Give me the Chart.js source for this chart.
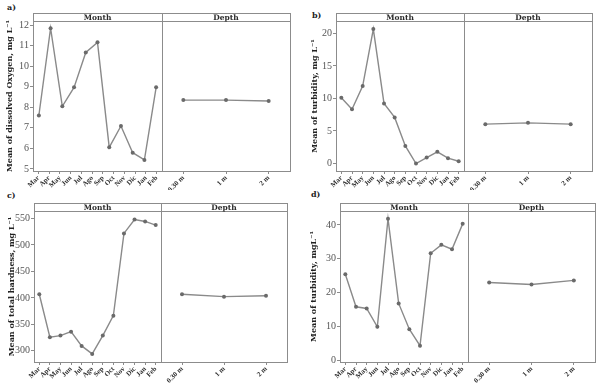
<!DOCTYPE html>
<html lang="en">
<head>
<meta charset="UTF-8">
<title>Monthly and depth means</title>
<script src="https://cdn.jsdelivr.net/npm/chart.js"></script>
<style>
  body { margin: 0; background: #fff; width: 605px; height: 386px; position: relative; overflow: hidden; }
  canvas { position: absolute; }
  .tag { position: absolute; font: bold 8px 'DejaVu Serif', serif; color: #222; }
</style>
</head>
<body>
<div class="tag" style="left:7px;top:2px">a)</div>
<div class="tag" style="left:312px;top:10px">b)</div>
<div class="tag" style="left:7px;top:190px">c)</div>
<div class="tag" style="left:311px;top:189px">d)</div>

<script>
const months = ['Mar', 'Apr', 'May', 'Jun', 'Jul', 'Ago', 'Sep', 'Oct', 'Nov', 'Dic', 'Jan', 'Feb'];
const depths = ['0.30 m', '1 m', '2 m'];

// a) dissolved oxygen - the original only has 11 points spread over the 12 month labels
const oxygenMonth = [7.6, 11.85, 8.05, 8.97, 10.67, 11.16, 6.05, 7.09, 5.79, 5.44, 8.97];
const oxygenDepth = [8.35, 8.35, 8.31];
const oxygenTicks = [5, 6, 7, 8, 9, 10, 11, 12];

// b) turbidity
const turbMonth = [10.1, 8.35, 11.9, 20.66, 9.23, 7.08, 2.7, 0.0, 0.92, 1.8, 0.82, 0.35];
const turbDepth = [6.05, 6.25, 6.05];
const turbTicks = [0, 5, 10, 15, 20];

// c) total hardness
const hardMonth = [406.8, 325.8, 328.8, 336.3, 309.4, 294.3, 328.8, 366.5, 521.7, 548, 544.3, 537.4];
const hardDepth = [406.8, 402.3, 404.1];
const hardTicks = [300, 350, 400, 450, 500, 550];

// d) turbidity (second set)
const turb2Month = [25.4, 15.8, 15.3, 9.9, 41.8, 16.8, 9.2, 4.3, 31.6, 34.1, 32.8, 40.3];
const turb2Depth = [23.0, 22.4, 23.6];
const turb2Ticks = [0, 10, 20, 30, 40];

const lineColor = '#8a8a8a';
const pointColor = '#6a6a6a';
const boxColor = '#8c8c8c';
const stripH = 8;
const depthOverhang = 24;   // room on the left of the depth canvas for the rotated "0.30 m"

function frame(label) {
    return {
        id: 'frame',
        afterDraw(chart) {
            const ctx = chart.ctx;
            const a = chart.chartArea;
            const top = a.top - stripH;
            ctx.save();
            ctx.strokeStyle = boxColor;
            ctx.lineWidth = 1;
            ctx.strokeRect(Math.round(a.left) + 0.5, Math.round(top) + 0.5,
                Math.round(a.right - a.left), Math.round(a.bottom - top));
            ctx.beginPath();
            ctx.moveTo(a.left, Math.round(a.top) + 0.5);
            ctx.lineTo(a.right, Math.round(a.top) + 0.5);
            ctx.stroke();
            ctx.fillStyle = '#2b2b2b';
            ctx.font = "bold 7.5px 'DejaVu Serif', serif";
            ctx.textAlign = 'center';
            ctx.textBaseline = 'middle';
            ctx.fillText(label, (a.left + a.right) / 2, (top + a.top) / 2 + 1);
            ctx.restore();
        }
    };
}

function addCanvas(left, top, w, h) {
    const c = document.createElement('canvas');
    c.width = w;
    c.height = h;
    c.style.left = left + 'px';
    c.style.top = top + 'px';
    document.body.appendChild(c);
    return c;
}

function panel(p) {
    const padTop = p.stripTop + stripH - p.y0;
    const xH = p.h - (p.bottom - p.y0);

    const yScale = (show) => ({
        min: p.ymin,
        max: p.ymax,
        display: show,
        afterBuildTicks: s => { s.ticks = p.ticks.map(v => ({ value: v })); },
        afterFit: s => { s.width = show ? p.left - p.x0 : 0; s.paddingTop = 0; s.paddingBottom = 0; },
        grid: { drawOnChartArea: false, tickLength: 3, color: boxColor },
        border: { display: false },
        ticks: { color: '#555', padding: 1, font: { family: "'Liberation Serif', serif", size: 10 } },
        title: {
            display: true, text: p.title, color: '#222',
            padding: { top: p.titlePad, bottom: 0 },
            font: { family: "'DejaVu Serif', serif", weight: 'bold', size: 8 }
        }
    });

    const xScale = (labels) => ({
        type: 'category',
        labels: labels,
        offset: true,
        afterFit: s => { s.height = xH; s.paddingLeft = 0; s.paddingRight = 0; },
        grid: { drawOnChartArea: false, tickLength: 3, color: boxColor, offset: false },
        border: { display: false },
        ticks: {
            autoSkip: false, minRotation: 45, maxRotation: 45, padding: 0, color: '#2e2e2e',
            font: { family: "'Liberation Serif', serif", weight: 'bold', size: 7 }
        }
    });

    const dataset = (values, axis) => ({
        data: values,
        xAxisID: axis,
        borderColor: lineColor,
        borderWidth: 1.4,
        pointRadius: 2,
        pointBackgroundColor: pointColor,
        pointBorderWidth: 0,
        tension: 0
    });

    const common = {
        responsive: false,
        animation: false,
        events: [],
        plugins: { legend: { display: false }, tooltip: { enabled: false } }
    };

    // month chart (has the y axis)
    const fits = p.monthValues.length === months.length;
    const monthScales = { x: xScale(months), y: yScale(true) };
    if (!fits) {
        monthScales.xd = {
            type: 'category', display: false, offset: true,
            labels: p.monthValues.map((_, i) => String(i))
        };
    }
    new Chart(addCanvas(p.x0, p.y0, p.mid - p.x0 + 2, p.h), {
        type: 'line',
        data: { labels: months, datasets: [dataset(p.monthValues, fits ? 'x' : 'xd')] },
        options: Object.assign({}, common, {
            layout: { autoPadding: false, padding: { top: padTop, right: 2, left: 0, bottom: 0 } },
            scales: monthScales
        }),
        plugins: [frame('Month')]
    });

    // depth chart
    new Chart(addCanvas(p.mid - depthOverhang, p.y0, p.right - p.mid + depthOverhang + 2, p.h), {
        type: 'line',
        data: { labels: depths, datasets: [dataset(p.depthValues, 'x')] },
        options: Object.assign({}, common, {
            layout: { autoPadding: false, padding: { top: padTop, right: 2, left: depthOverhang, bottom: 0 } },
            scales: { x: xScale(depths), y: yScale(false) }
        }),
        plugins: [frame('Depth')]
    });
}

panel({
    x0: 0, y0: 0, h: 190, left: 33, mid: 162, right: 290, stripTop: 13, bottom: 171,
    title: 'Mean of dissolved Oxygen, mg L\u207B\u00B9', titlePad: 5,
    ymin: 4.9, ymax: 12.2, ticks: oxygenTicks, monthValues: oxygenMonth, depthValues: oxygenDepth
});
panel({
    x0: 300, y0: 0, h: 190, left: 336, mid: 464, right: 592, stripTop: 13, bottom: 171,
    title: 'Mean of turbidity, mg L\u207B\u00B9', titlePad: 10,
    ymin: -1.15, ymax: 21.9, ticks: turbTicks, monthValues: turbMonth, depthValues: turbDepth
});
panel({
    x0: 0, y0: 190, h: 196, left: 34, mid: 161, right: 287, stripTop: 203, bottom: 362,
    title: 'Mean of total hardness, mg L\u207B\u00B9', titlePad: 7,
    ymin: 279, ymax: 564, ticks: hardTicks, monthValues: hardMonth, depthValues: hardDepth
});
panel({
    x0: 300, y0: 190, h: 196, left: 340, mid: 468, right: 595, stripTop: 203, bottom: 362,
    title: 'Mean of turbidity, mgL\u207B\u00B9', titlePad: 9,
    ymin: -0.5, ymax: 44.1, ticks: turb2Ticks, monthValues: turb2Month, depthValues: turb2Depth
});
</script>
</body>
</html>
